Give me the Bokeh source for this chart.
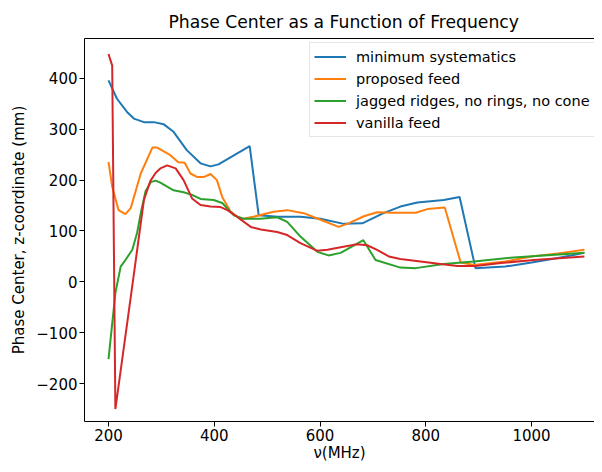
from bokeh.plotting import figure
from bokeh.models import Legend, LegendItem, LinearAxis, FixedTicker, Range1d
from bokeh.embed import file_html
from bokeh.resources import INLINE

# ---- data ----
freq_min_sys = [200, 216, 235, 248, 267, 286, 304, 323, 348, 374, 393, 408, 467, 484, 520, 563,
                601, 645, 680, 720, 752, 784, 834, 864, 894, 950, 1000, 1050, 1100]
phase_min_sys = [396, 360, 334, 321, 314, 314, 310, 295, 259, 233, 227, 231, 267, 131, 128, 128,
                 124, 114, 115, 135, 148, 156, 161, 167, 27, 30, 38, 47, 57]

freq_proposed = [200, 207, 219, 232, 242, 261, 283, 292, 317, 332, 344, 355, 368, 380, 393, 405,
                 415, 431, 450, 474, 512, 538, 569, 601, 635, 654, 683, 708, 739, 781, 803, 836,
                 866, 891, 950, 1000, 1050, 1100]
phase_proposed = [236, 187, 141, 133, 145, 213, 264, 264, 249, 235, 234, 213, 206, 206, 212, 200,
                  167, 138, 123, 128, 138, 141, 135, 122, 108, 115, 129, 137, 136, 136, 143, 146,
                  38, 33, 40, 50, 56, 63]

freq_jagged = [200, 213, 223, 232, 245, 254, 262, 270, 280, 289, 298, 311, 323, 342, 358, 374,
               399, 415, 437, 455, 487, 519, 538, 563, 595, 616, 639, 682, 705, 752, 781, 834,
               891, 966, 1100]
phase_jagged = [-152, -22, 30, 43, 63, 96, 140, 178, 196, 199, 195, 187, 180, 176, 171, 163,
                161, 155, 131, 124, 124, 127, 118, 89, 59, 52, 57, 82, 43, 28, 27, 35,
                40, 48, 57]

freq_vanilla = [200, 207, 213, 246, 267, 279, 289, 298, 311, 327, 342, 358, 374, 393, 412, 425,
                443, 469, 488, 519, 538, 563, 595, 614, 639, 670, 689, 708, 730, 752, 790, 828,
                860, 894, 942, 1004, 1100]
phase_vanilla = [448, 425, -250, 0, 161, 198, 214, 223, 229, 223, 200, 164, 151, 148, 147, 141,
                 128, 108, 103, 98, 92, 76, 61, 63, 68, 74, 72, 63, 50, 45, 40, 35,
                 31, 31, 37, 43, 50]

series_names = ["minimum systematics", "proposed feed",
                "jagged ridges, no rings, no cone", "vanilla feed"]
series_colors = ["#1f77b4", "#ff7f0e", "#2ca02c", "#d62728"]

x_ticks = [200, 400, 600, 800, 1000]
y_ticks = [-200, -100, 0, 100, 200, 300, 400]
y_tick_labels = {-200: "\u2212200", -100: "\u2212100"}

FONT = "DejaVu Sans"

p = figure(width=594, height=464, output_backend="svg", toolbar_location=None,
           x_range=Range1d(154.6, 1119.1), y_range=Range1d(-274.5, 478.4),
           min_border_left=84, min_border_right=0, min_border_top=38, min_border_bottom=42,
           background_fill_color="white", border_fill_color="white")
p.grid.visible = False
p.outline_line_color = None

p.title.text = "Phase Center as a Function of Frequency"
p.title.align = "left"
p.title.offset = 84
p.title.text_font = FONT
p.title.text_font_size = "17.2px"
p.title.text_font_style = "normal"
p.title.text_color = "black"
p.title.standoff = 13

renderers = []
for fx, fy, c in [(freq_min_sys, phase_min_sys, series_colors[0]),
                  (freq_proposed, phase_proposed, series_colors[1]),
                  (freq_jagged, phase_jagged, series_colors[2]),
                  (freq_vanilla, phase_vanilla, series_colors[3])]:
    r = p.line(fx, fy, line_color=c, line_width=2)
    renderers.append(r)

for ax in (p.xaxis[0], p.yaxis[0]):
    ax.axis_line_color = "black"
    ax.axis_line_width = 1
    ax.major_tick_line_color = "black"
    ax.major_tick_out = 5
    ax.major_tick_in = 0
    ax.minor_tick_line_color = None
    ax.major_label_text_font = FONT
    ax.major_label_text_font_size = "15px"
    ax.major_label_text_color = "black"
    ax.axis_label_text_font = FONT
    ax.axis_label_text_font_size = "15px"
    ax.axis_label_text_font_style = "normal"
    ax.axis_label_text_color = "black"

p.xaxis.ticker = FixedTicker(ticks=x_ticks)
p.yaxis.ticker = FixedTicker(ticks=y_ticks)
p.yaxis.major_label_overrides = y_tick_labels
p.xaxis.axis_label = "\u03bd(MHz)"
p.yaxis.axis_label = "Phase Center, z-coordinate (mm)"
p.xaxis.major_label_standoff = 2
p.xaxis.axis_label_standoff = 0
p.yaxis.major_label_standoff = 2
p.yaxis.axis_label_standoff = 5

top = LinearAxis(ticker=FixedTicker(ticks=[]), axis_line_color="black",
                 major_tick_line_color=None, minor_tick_line_color=None,
                 major_tick_out=0, major_tick_in=0, major_label_standoff=0,
                 major_label_text_font_size="0px")
p.add_layout(top, "above")

legend = Legend(items=[LegendItem(label=n, renderers=[r]) for n, r in zip(series_names, renderers)],
                location=(225, 284), padding=4, spacing=3,
                label_height=19, glyph_height=19, glyph_width=32, label_standoff=10,
                label_text_font=FONT, label_text_font_size="14.5px", label_text_color="black",
                border_line_color="#cccccc", border_line_width=1,
                background_fill_color="white", background_fill_alpha=0.8)
p.add_layout(legend)

open("out.html", "w").write(file_html(p, INLINE))
